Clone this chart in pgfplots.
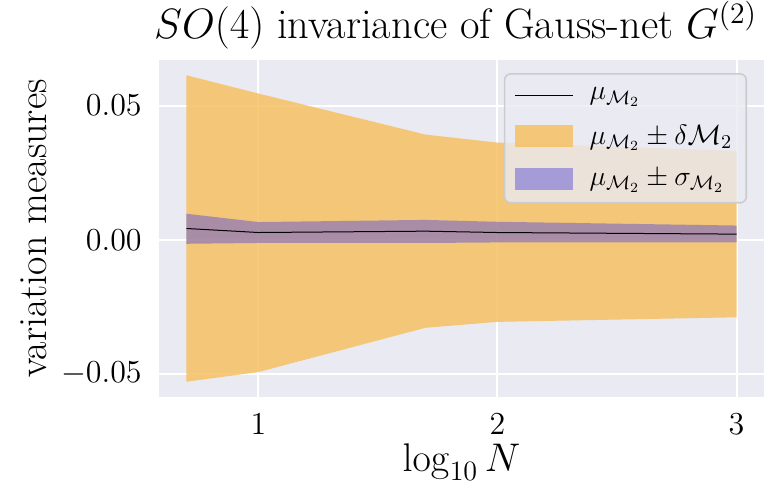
\RequirePackage{fix-cm}
\documentclass[border=0pt]{standalone}
\usepackage{pgfplots}
\pgfplotsset{compat=1.18}
\usepgfplotslibrary{fillbetween}
\definecolor{bgc}{RGB}{234,234,242}
\definecolor{orangefill}{RGB}{246,189,90}
\definecolor{purpfill}{RGB}{96,86,214}
\definecolor{legedge}{RGB}{204,204,204}
\begin{document}
\begin{tikzpicture}
\begin{axis}[
  name=ax,
  scale only axis,
  width=302.5pt, height=168.5pt,
  xmin=0.584, xmax=3.115,
  ymin=-0.0586, ymax=0.0670,
  axis background/.style={fill=bgc},
  axis line style={draw=none},
  major tick length=0pt,
  grid=major,
  major grid style={white, line width=1pt},
  xtick={1,2,3},
  ytick={-0.05,0,0.05},
  scaled y ticks=false,
  yticklabel style={/pgf/number format/fixed, /pgf/number format/fixed zerofill, /pgf/number format/precision=2},
  tick label style={font=\fontsize{16}{18}\selectfont},
  xticklabel style={anchor=base, yshift=-19pt},
  yticklabel style={anchor=east, inner sep=0pt, xshift=-8.5pt},
  xlabel={$\log_{10} N$},
  ylabel={variation measures},
  label style={font=\fontsize{20}{24}\selectfont},
  xlabel style={at={(axis description cs:0.5,-0.2196)}, anchor=base},
  ylabel style={at={(axis description cs:-0.2066,0.5)}, anchor=center},
  title={$SO(4)$ invariance of Gauss-net $G^{(2)}$},
  title style={font=\fontsize{21.2}{26}\selectfont, at={(axis description cs:0.5,1)}, anchor=base, yshift=4.5pt, xshift=-3pt},
  legend style={at={(rel axis cs:0.972,0.961)}, anchor=north east, fill=bgc, fill opacity=0.8, text opacity=1, draw=legedge, line width=0.8pt, rounded corners=3pt, font=\fontsize{14}{17}\selectfont, row sep=7pt, inner xsep=5pt, inner ysep=5pt, /tikz/every odd column/.append style={column sep=6pt}},
  legend cell align=left,
]
\addplot[name path=ou, draw=none, forget plot] coordinates {(0.699,0.0613) (1,0.0545) (1.699,0.0392) (2,0.0362) (3,0.0331)};
\addplot[name path=ol, draw=none, forget plot] coordinates {(0.699,-0.0529) (1,-0.0493) (1.699,-0.0328) (2,-0.0306) (3,-0.0289)};
\addplot[fill=orangefill, fill opacity=0.8, draw=none, forget plot] fill between[of=ou and ol];
\addplot[name path=pu, draw=none, forget plot] coordinates {(0.699,0.0097) (1,0.0066) (1.699,0.0074) (2,0.0067) (3,0.0053)};
\addplot[name path=pl, draw=none, forget plot] coordinates {(0.699,-0.0015) (1,-0.0012) (1.699,-0.0012) (2,-0.0010) (3,-0.0010)};
\addplot[fill=purpfill, fill opacity=0.5, draw=none, forget plot] fill between[of=pu and pl];
\addplot[black, line width=0.5pt, forget plot] coordinates {(0.699,0.0042) (1,0.0027) (1.699,0.0032) (2,0.0027) (3,0.0021)};
\addlegendimage{legend image code/.code={\draw[black, line width=0.5pt, sharp corners] (0pt,0pt) -- (29pt,0pt);}}
\addlegendentry{$\mu_{\mathcal{M}_2}$}
\addlegendimage{legend image code/.code={\path[fill=orangefill, fill opacity=0.8, draw=none, sharp corners] (0pt,-5.4pt) rectangle (29pt,5.4pt);}}
\addlegendentry{$\mu_{\mathcal{M}_2}\pm\delta\mathcal{M}_2$}
\addlegendimage{legend image code/.code={\path[fill=purpfill, fill opacity=0.5, draw=none, sharp corners] (0pt,-5.4pt) rectangle (29pt,5.4pt);}}
\addlegendentry{$\mu_{\mathcal{M}_2}\pm\sigma_{\mathcal{M}_2}$}
\end{axis}
\pgfresetboundingbox
\path ([shift={(-79.5pt,-44pt)}]ax.south west) rectangle ([shift={(308pt,198.5pt)}]ax.south west);
\end{tikzpicture}
\end{document}
